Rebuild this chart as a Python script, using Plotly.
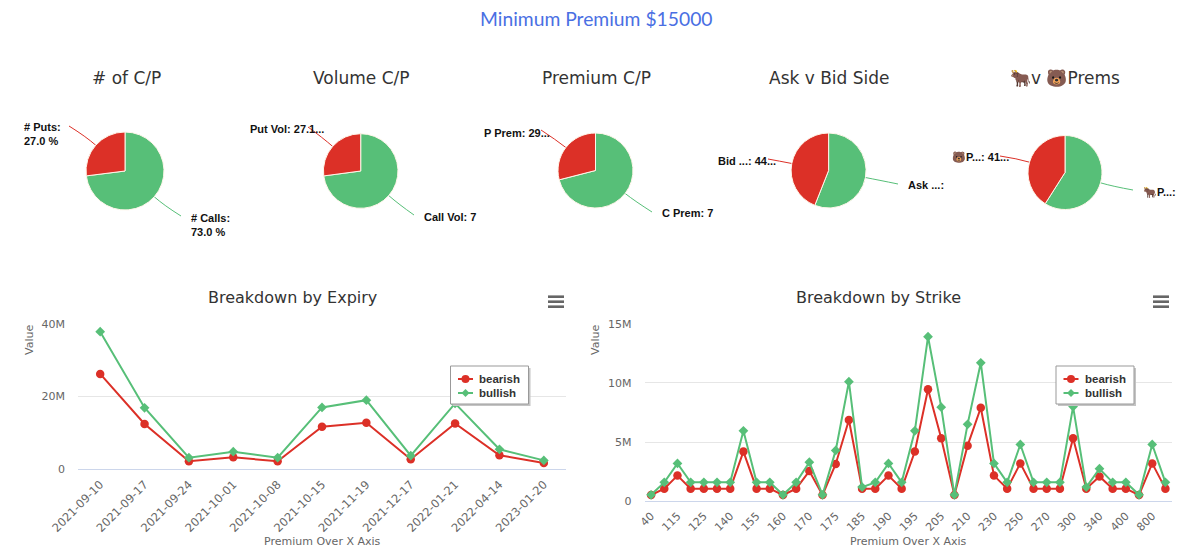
import numpy as np
import plotly.graph_objects as go

W, H = 1200, 547
GREEN = '#57bf78'
RED = '#dc3027'
GREY = '#666666'
FONT = 'DejaVu Sans'
LABEL_FONT = 'Liberation Sans'

# pies: values are green slice, red slice
pie_titles = ['# of C/P', 'Volume C/P', 'Premium C/P', 'Ask v Bid Side', '🐂v 🐻Prems']
pie_names = [['# Calls', '# Puts'], ['Call Vol', 'Put Vol'], ['C Prem', 'P Prem'],
             ['Ask Prem', 'Bid Prem'], ['🐂Prem', '🐻Prem']]
pie_green = [73.0, 72.9, 71.0, 56.0, 59.0]
pie_red = [27.0, 27.1, 29.0, 44.0, 41.0]
pie_green_labels = ['# Calls:<br>73.0 %', 'Call Vol: 7', 'C Prem: 7', 'Ask ...:', '🐂P...:']
pie_red_labels = ['# Puts:<br>27.0 %', 'Put Vol: 27.1...', 'P Prem: 29...', 'Bid ...: 44...', '🐻P...: 41...']

expiry_dates = ['2021-09-10', '2021-09-17', '2021-09-24', '2021-10-01', '2021-10-08', '2021-10-15',
                '2021-11-19', '2021-12-17', '2022-01-21', '2022-04-14', '2023-01-20']
expiry_bearish = [26.2, 12.45, 2.2, 3.3, 2.2, 11.7, 12.8, 2.75, 12.6, 3.85, 1.75]
expiry_bullish = [37.8, 16.9, 3.2, 4.85, 3.2, 17.0, 19.0, 3.75, 18.1, 5.5, 2.45]

# every second strike is labelled on the axis, the ones between are guesses
strikes = ['40', '110', '115', '120', '125', '130', '140', '145', '155', '157.5',
           '160', '165', '170', '172.5', '175', '180', '185', '187.5', '190', '192.5',
           '195', '200', '205', '207.5', '210', '220', '230', '240', '250', '260',
           '270', '280', '300', '320', '340', '360', '400', '500', '800', '900']
strike_bearish = [0.53, 1.07, 2.17, 1.07, 1.07, 1.07, 1.07, 4.2, 1.07, 1.07,
                  0.53, 1.07, 2.55, 0.53, 3.15, 6.87, 1.07, 1.07, 2.17, 1.07,
                  4.2, 9.46, 5.32, 0.53, 4.7, 7.9, 2.17, 1.07, 3.2, 1.07,
                  1.07, 1.07, 5.32, 1.07, 2.1, 1.07, 1.07, 0.53, 3.2, 1.07]
strike_bullish = [0.55, 1.6, 3.2, 1.6, 1.6, 1.6, 1.6, 5.95, 1.6, 1.6,
                  0.55, 1.6, 3.3, 0.55, 4.3, 10.1, 1.2, 1.6, 3.2, 1.6,
                  5.95, 13.9, 7.95, 0.55, 6.5, 11.7, 3.2, 1.6, 4.8, 1.6,
                  1.6, 1.6, 8.0, 1.2, 2.75, 1.6, 1.6, 0.55, 4.8, 1.6]

expiry_ticks = [0, 20, 40]
expiry_ticktext = ['0', '20M', '40M']
strike_ticks = [0, 5, 10, 15]
strike_ticktext = ['0', '5M', '10M', '15M']

# pixel layout of the pies: centre x, centre y, radius, title x
pie_boxes = [(125, 171, 39, 126), (360.7, 171, 37.3, 361), (595.5, 170.5, 37.5, 596),
             (828.6, 170.5, 37.5, 829), (1065, 172.5, 37, 1065)]
# label left edge and centre y, leader end
green_label_pos = [(189, 224.5, 181, 216), (422, 217, 414, 215), (660, 213, 652, 212),
                   (906, 185, 898, 184), (1141, 192, 1133, 190)]
red_label_pos = [(22, 134.5, 69, 126), (248, 129, 308, 127), (482, 133, 541, 130),
                 (716, 161, 768, 159), (950, 157, 1000, 156)]


def px(x):
    return x / W


def py(y):
    return 1 - y / H


def leader(cx, cy, r, mid_share, end_x, end_y, color):
    angle = 2 * np.pi * mid_share
    dx, dy = np.sin(angle), -np.cos(angle)
    x0, y0 = cx + r * dx, cy + r * dy
    xc, yc = cx + (r + 13) * dx, cy + (r + 13) * dy
    path = f'M {px(x0)} {py(y0)} Q {px(xc)} {py(yc)} {px(end_x)} {py(end_y)}'
    return dict(type='path', xref='paper', yref='paper', path=path,
                line=dict(color=color, width=1), layer='below')


def text(x, y, s, size, color, xanchor='center', family=FONT, **kw):
    return dict(x=px(x), y=py(y), xref='paper', yref='paper', text=s, showarrow=False,
                xanchor=xanchor, yanchor='middle', font=dict(family=family, size=size, color=color), **kw)


def rect(x0, y0, x1, y1, fill, line_color=None):
    return dict(type='rect', xref='paper', yref='paper', x0=px(x0), x1=px(x1), y0=py(y1), y1=py(y0),
                fillcolor=fill, layer='above',
                line=dict(color=line_color, width=1) if line_color else dict(width=0))


def hline(x0, x1, y, color, width):
    return dict(type='line', xref='paper', yref='paper', x0=px(x0), x1=px(x1), y0=py(y), y1=py(y),
                line=dict(color=color, width=width), layer='above')


fig = go.Figure()
shapes, annotations = [], []

for i, (cx, cy, r, tx) in enumerate(pie_boxes):
    g, b = pie_green[i], pie_red[i]
    fig.add_trace(go.Pie(labels=pie_names[i], values=[g, b], sort=False, direction='clockwise', rotation=0,
                         marker=dict(colors=[GREEN, RED], line=dict(color='#fff6ea', width=1)),
                         textinfo='none', hoverinfo='label+percent', showlegend=False,
                         domain=dict(x=[px(cx - r), px(cx + r)], y=[py(cy + r), py(cy - r)])))
    total = g + b
    lx, ly, ex, ey = green_label_pos[i]
    shapes.append(leader(cx, cy, r, g / 2 / total, ex, ey, GREEN))
    annotations.append(text(lx, ly, f'<b>{pie_green_labels[i]}</b>', 11, '#111111', 'left', LABEL_FONT, align='left'))
    lx, ly, ex, ey = red_label_pos[i]
    shapes.append(leader(cx, cy, r, (g + b / 2) / total, ex, ey, RED))
    annotations.append(text(lx, ly, f'<b>{pie_red_labels[i]}</b>', 11, '#111111', 'left', LABEL_FONT, align='left'))
    annotations.append(text(tx, 78, pie_titles[i], 17, '#333333'))

line_charts = [
    ('x', 'y', expiry_dates, expiry_bearish, expiry_bullish),
    ('x2', 'y2', strikes, strike_bearish, strike_bullish),
]
for xa, ya, cats, bear, bull in line_charts:
    fig.add_trace(go.Scatter(x=cats, y=bear, name='bearish', mode='lines+markers', xaxis=xa, yaxis=ya,
                             line=dict(color=RED, width=2), marker=dict(symbol='circle', size=8.5, color=RED),
                             cliponaxis=False, showlegend=False))
    fig.add_trace(go.Scatter(x=cats, y=bull, name='bullish', mode='lines+markers', xaxis=xa, yaxis=ya,
                             line=dict(color=GREEN, width=2), marker=dict(symbol='diamond', size=7.5, color=GREEN),
                             cliponaxis=False, showlegend=False))

annotations += [
    text(596, 18, 'Minimum Premium $15000', 19.3, '#4a6fe3', family='Lato'),
    text(292, 298, 'Breakdown by Expiry', 16, '#333333'),
    text(878, 298, 'Breakdown by Strike', 16, '#333333'),
    text(29, 340, 'Value', 11, GREY, textangle=-90),
    text(595, 340, 'Value', 11, GREY, textangle=-90),
    text(322, 541, 'Premium Over X Axis', 11, GREY),
    text(908, 541, 'Premium Over X Axis', 11, GREY),
]

# hand drawn legends, plotly's own one has a minimum row height and swatch width too big for this box
for x0, x1 in [(450.5, 528.5), (1056, 1134)]:
    shapes.append(rect(x0 + 2, 368, x1 + 2, 406, '#c4c4c4'))
    shapes.append(rect(x0, 366, x1, 404, '#ffffff', '#999999'))
    sx = x0 + 7.5
    for y, color, name in [(379, RED, 'bearish'), (393, GREEN, 'bullish')]:
        shapes.append(hline(sx, sx + 15, y, color, 2))
        annotations.append(text(sx + 19, y, f'<b>{name}</b>', 11.5, '#333333', 'left', LABEL_FONT))
    shapes.append(dict(type='circle', xref='paper', yref='paper', x0=px(sx + 3.5), x1=px(sx + 11.5),
                       y0=py(383), y1=py(375), fillcolor=RED, line=dict(width=0), layer='above'))
    cx = sx + 7.5
    shapes.append(dict(type='path', xref='paper', yref='paper', fillcolor=GREEN, line=dict(width=0), layer='above',
                       path=f'M {px(cx - 4)} {py(393)} L {px(cx)} {py(389)} L {px(cx + 4)} {py(393)} '
                            f'L {px(cx)} {py(397)} Z'))

# export menu icons
for x0, x1 in [(548, 564), (1153, 1169)]:
    for y in [296.7, 301.7, 306.7]:
        shapes.append(hline(x0, x1, y, '#666666', 2.6))


def x_axis(domain, anchor, cats, step, angle_size):
    return dict(domain=domain, anchor=anchor, type='category', range=[-0.5, len(cats) - 0.5],
                tickmode='array', tickvals=cats[::step], ticktext=cats[::step], tickangle=-45,
                tickfont=dict(family=FONT, size=angle_size, color=GREY), showgrid=False, zeroline=False,
                showline=True, linecolor='#ccd6eb', linewidth=1, ticks='', ticklabelstandoff=3, automargin=False)


def y_axis(domain, anchor, top, vals, labels):
    return dict(domain=domain, anchor=anchor, range=[0, top], tickmode='array', tickvals=vals, ticktext=labels,
                tickfont=dict(family=FONT, size=11, color=GREY), gridcolor='#e6e6e6', gridwidth=1, zeroline=False,
                showline=False, ticks='', ticklabelstandoff=12, automargin=False)


fig.update_layout(
    width=W, height=H, margin=dict(l=0, r=0, t=0, b=0), paper_bgcolor='#ffffff', plot_bgcolor='#ffffff',
    xaxis=x_axis([px(78), px(566)], 'y', expiry_dates, 1, 11.5),
    yaxis=y_axis([py(469.3), py(323.7)], 'x', 40, expiry_ticks, expiry_ticktext),
    xaxis2=x_axis([px(644.5), px(1172)], 'y2', strikes, 2, 11),
    yaxis2=y_axis([py(501.3), py(323.7)], 'x2', 15, strike_ticks, strike_ticktext),
    shapes=shapes, annotations=annotations, showlegend=False,
)

fig.write_html('out.html', config={'displayModeBar': False},
               post_script="document.body.style.margin='0';")
